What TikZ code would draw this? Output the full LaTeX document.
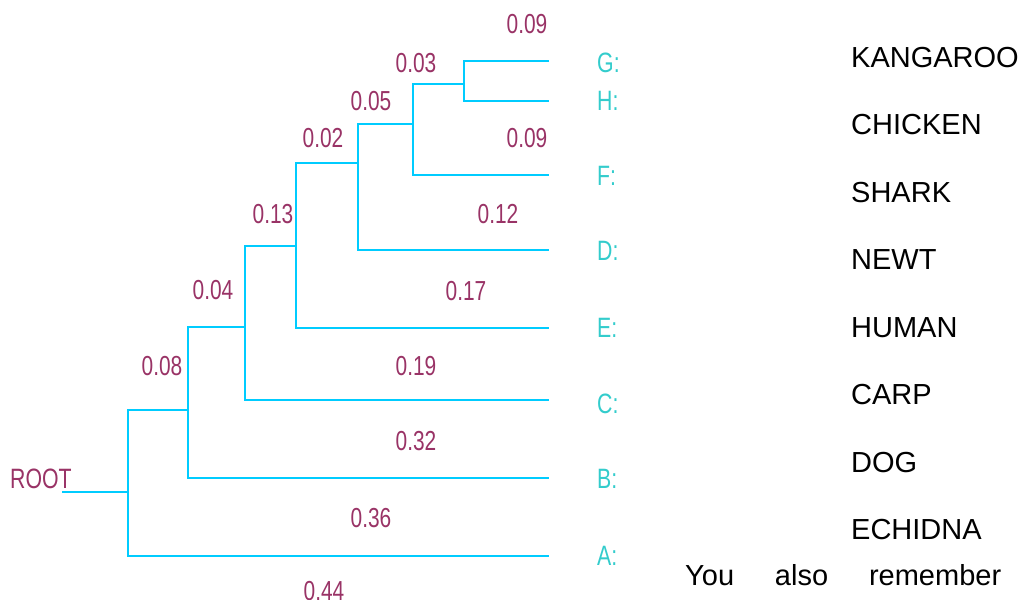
\documentclass[tikz,border=0pt]{standalone}
\usepackage{fontspec}
\setmainfont{Liberation Sans}
\newfontfamily\condfont[FakeStretch=0.76]{Liberation Sans}
\definecolor{branch}{HTML}{00CCFF}
\definecolor{maroon}{HTML}{993366}
\definecolor{leafc}{HTML}{33CCCC}
\tikzset{
  br/.style={draw=branch, line width=1.5pt},
  blen/.style={text=maroon, anchor=base, inner sep=0pt, font=\condfont\fontsize{27.5}{30}\selectfont},
  leaflab/.style={text=leafc, anchor=base west, inner sep=0pt, font=\condfont\fontsize{28}{30}\selectfont},
  animal/.style={text=black, anchor=base west, inner sep=0pt, font=\fontsize{29}{32}\selectfont},
}
\begin{document}
\begin{tikzpicture}[x=1pt,y=-1pt]
\useasboundingbox (0,0) rectangle (1021,600);
% leaf ends
\coordinate (G) at (549,61);
\coordinate (H) at (549,101);
\coordinate (F) at (549,175);
\coordinate (D) at (549,250);
\coordinate (E) at (549,328);
\coordinate (C) at (549,400);
\coordinate (B) at (549,478);
\coordinate (A) at (549,556);
% internal nodes
\coordinate (rootend) at (62,492);
\coordinate (n1) at (128,492);
\coordinate (n2) at (188,410);
\coordinate (n3) at (245,327);
\coordinate (n4) at (296,246);
\coordinate (n5) at (358,163);
\coordinate (n6) at (413,124);
\coordinate (n7) at (464,84);
% branches
\draw[br] (rootend) -- (n1);
\draw[br] (n2) -| (n1) |- (A);
\draw[br] (n3) -| (n2) |- (B);
\draw[br] (n4) -| (n3) |- (C);
\draw[br] (n5) -| (n4) |- (E);
\draw[br] (n6) -| (n5) |- (D);
\draw[br] (n7) -| (n6) |- (F);
\draw[br] (G) -| (n7) |- (H);
% root label
\node[text=maroon, anchor=base west, inner sep=0pt, font=\condfont\fontsize{28}{30}\selectfont] (rootlab) at (10,488) {ROOT};
% branch lengths
\node[blen] (l1) at (527,33) {0.09};
\node[blen] (l2) at (416,72) {0.03};
\node[blen] (l3) at (371,110) {0.05};
\node[blen] (l4) at (323,147) {0.02};
\node[blen] (l5) at (527,147) {0.09};
\node[blen] (l6) at (273,223) {0.13};
\node[blen] (l7) at (498,223) {0.12};
\node[blen] (l8) at (213,299) {0.04};
\node[blen] (l9) at (466,300) {0.17};
\node[blen] (l10) at (162,375) {0.08};
\node[blen] (l11) at (416,375) {0.19};
\node[blen] (l12) at (416,450) {0.32};
\node[blen] (l13) at (371,527) {0.36};
\node[blen] (l14) at (324,600) {0.44};
% leaf labels
\node[leaflab] (gl) at (597,72) {G:};
\node[leaflab] (hl) at (597,110) {H:};
\node[leaflab] (fl) at (597,185) {F:};
\node[leaflab] (dl) at (597,260) {D:};
\node[leaflab] (el) at (597,337) {E:};
\node[leaflab] (cl) at (597,413) {C:};
\node[leaflab] (bl) at (597,488) {B:};
\node[leaflab] (al) at (597,565) {A:};
% animals
\node[animal] (k) at (851,67) {KANGAROO};
\node[animal] (ch) at (851,134) {CHICKEN};
\node[animal] (sh) at (851,202) {SHARK};
\node[animal] (nw) at (851,269) {NEWT};
\node[animal] (hu) at (851,337) {HUMAN};
\node[animal] (ca) at (851,404) {CARP};
\node[animal] (dg) at (851,472) {DOG};
\node[animal] (ec) at (851,539) {ECHIDNA};
% text line
\node[animal] (txt) at (685,585) {\hbox to 316pt{You\hfill also\hfill remember}};
\end{tikzpicture}
\end{document}
